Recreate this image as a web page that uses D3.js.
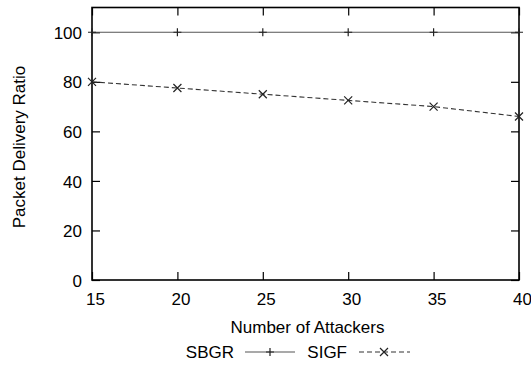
<!DOCTYPE html>
<html>
<head>
<meta charset="utf-8">
<script src="https://cdn.jsdelivr.net/npm/d3@7"></script>
<style>
  html, body { margin: 0; padding: 0; background: #fff; }
  svg text { font-family: "Liberation Sans", Arial, Helvetica, sans-serif; fill: #000; }
</style>
</head>
<body>
<svg id="chart" width="531" height="366"></svg>
<script>
const attackers = [15, 20, 25, 30, 35, 40];
const sbgr = [100, 100, 100, 100, 100, 100];
const sigf = [80, 77.5, 75, 72.5, 70, 66];
const xTicks = [15, 20, 25, 30, 35, 40];
const yTicks = [0, 20, 40, 60, 80, 100];
const seriesNames = ["SBGR", "SIGF"];

(function () {
const svg = d3.select("#chart");
const margin = { left: 92, right: 12, top: 7.5, bottom: 86 };
const W = 531, H = 366;
const x = d3.scaleLinear().domain([15, 40]).range([margin.left, W - margin.right]);
const y = d3.scaleLinear().domain([0, 110]).range([H - margin.bottom, margin.top]);
const fs = 17;
const tickLen = 8;

const axB = svg.append("g").attr("transform", `translate(0,${y(0)})`)
  .call(d3.axisBottom(x).tickValues(xTicks).tickSize(-tickLen).tickPadding(16).tickFormat(d3.format("d")));
axB.select(".domain").remove();
axB.selectAll("line").attr("stroke", "#000").attr("stroke-width", 1.2);
axB.selectAll("text").attr("font-size", fs).attr("dx", 3).attr("dy", "0.55em")
  .style("font-family", '"Liberation Sans", Arial, sans-serif');

const axT = svg.append("g").attr("transform", `translate(0,${y(110)})`)
  .call(d3.axisTop(x).tickValues(xTicks).tickSize(-tickLen).tickFormat(""));
axT.select(".domain").remove();
axT.selectAll("line").attr("stroke", "#000").attr("stroke-width", 1.2);

const axL = svg.append("g").attr("transform", `translate(${x(15)},0)`)
  .call(d3.axisLeft(y).tickValues(yTicks).tickSize(-tickLen).tickPadding(10));
axL.select(".domain").remove();
axL.selectAll("line").attr("stroke", "#000").attr("stroke-width", 1.2);
axL.selectAll("text").attr("font-size", fs).attr("dy", "0.36em")
  .style("font-family", '"Liberation Sans", Arial, sans-serif');

const axR = svg.append("g").attr("transform", `translate(${x(40)},0)`)
  .call(d3.axisRight(y).tickValues(yTicks).tickSize(-tickLen).tickFormat(""));
axR.select(".domain").remove();
axR.selectAll("line").attr("stroke", "#000").attr("stroke-width", 1.2);

svg.append("rect")
  .attr("x", x(15)).attr("y", y(110))
  .attr("width", x(40) - x(15)).attr("height", y(0) - y(110))
  .attr("fill", "none").attr("stroke", "#000").attr("stroke-width", 1.6);

const line = d3.line().x((d, i) => x(attackers[i])).y(d => y(d));
svg.append("path").datum(sbgr).attr("d", line)
  .attr("fill", "none").attr("stroke", "#555").attr("stroke-width", 1.2);
svg.append("path").datum(sigf).attr("d", line)
  .attr("fill", "none").attr("stroke", "#333").attr("stroke-width", 1.1)
  .attr("stroke-dasharray", "5,3");

const m = 4;
function plus(sel, cx, cy) {
  sel.append("path").attr("d", `M${cx - m},${cy}H${cx + m}M${cx},${cy - m}V${cy + m}`)
    .attr("stroke", "#222").attr("stroke-width", 1.2).attr("fill", "none");
}
function cross(sel, cx, cy) {
  sel.append("path").attr("d", `M${cx - m},${cy - m}L${cx + m},${cy + m}M${cx - m},${cy + m}L${cx + m},${cy - m}`)
    .attr("stroke", "#222").attr("stroke-width", 1.2).attr("fill", "none");
}
sbgr.forEach((v, i) => plus(svg, x(attackers[i]), y(v)));
sigf.forEach((v, i) => cross(svg, x(attackers[i]), y(v)));

svg.append("text").attr("x", (x(15) + x(40)) / 2 + 2).attr("y", 333)
  .attr("text-anchor", "middle").attr("font-size", fs).text("Number of Attackers");
svg.append("text").attr("transform", `translate(25,147) rotate(-90)`)
  .attr("text-anchor", "middle").attr("font-size", fs).text("Packet Delivery Ratio");

const ly = 352;
svg.append("text").attr("x", 234).attr("y", ly).attr("dy", "0.35em")
  .attr("text-anchor", "end").attr("font-size", fs).text(seriesNames[0]);
svg.append("line").attr("x1", 245).attr("x2", 295).attr("y1", ly).attr("y2", ly)
  .attr("stroke", "#555").attr("stroke-width", 1.2);
plus(svg, 270, ly);
svg.append("text").attr("x", 347).attr("y", ly).attr("dy", "0.35em")
  .attr("text-anchor", "end").attr("font-size", fs).text(seriesNames[1]);
svg.append("line").attr("x1", 359).attr("x2", 410).attr("y1", ly).attr("y2", ly)
  .attr("stroke", "#333").attr("stroke-width", 1.1).attr("stroke-dasharray", "5,3");
cross(svg, 384, ly);
})();
</script>
</body>
</html>
